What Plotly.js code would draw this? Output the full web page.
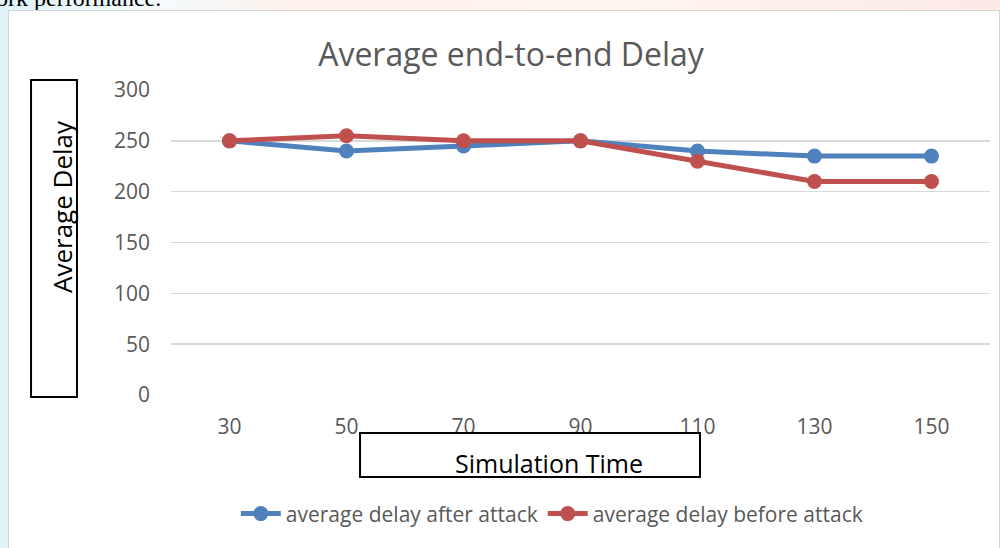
<!DOCTYPE html>
<html>
<head>
<meta charset="utf-8">
<script src="https://cdn.plot.ly/plotly-3.0.1.min.js"></script>
<style>
  html, body { margin:0; padding:0; width:1000px; height:548px; overflow:hidden;
    background: linear-gradient(90deg, #dff3f8 0%, #f4fbfd 15%, #fdf1ea 30%, #fff6ef 60%, #fbe9e6 100%); }
  #frame { position:absolute; left:8px; top:10px; width:990px; height:545px;
    background:#ffffff; border:1px solid #d4d4d4; }
  #doctext { position:absolute; left:-4px; top:-15px; font-family:"Liberation Serif", serif;
    font-size:24px; color:#000; white-space:nowrap; }
  #chart { position:absolute; left:0; top:0; width:1000px; height:548px; }
</style>
</head>
<body>
<div id="doctext">ork performance.</div>
<div id="frame"></div>
<div id="chart"></div>
<script>
const simulationTime = ["30", "50", "70", "90", "110", "130", "150"];
const delayAfterAttack = [250, 240, 245, 250, 240, 235, 235];
const delayBeforeAttack = [250, 255, 250, 250, 230, 210, 210];
const yTickValues = [0, 50, 100, 150, 200, 250, 300];

const BLUE = "#4F81BD";
const RED = "#C0504D";
const GRAY = "#595959";
const FONT = "Open Sans";

const traces = [
  { x: simulationTime, y: delayAfterAttack, type: "scatter", mode: "lines+markers",
    name: "average delay after attack",
    line: { color: BLUE, width: 5 }, marker: { color: BLUE, size: 15 } },
  { x: simulationTime, y: delayBeforeAttack, type: "scatter", mode: "lines+markers",
    name: "average delay before attack",
    line: { color: RED, width: 5 }, marker: { color: RED, size: 15 } }
];

const layout = {
  width: 1000, height: 548,
  margin: { l: 171, r: 10, t: 90, b: 153 },
  paper_bgcolor: "rgba(0,0,0,0)",
  plot_bgcolor: "rgba(0,0,0,0)",
  title: { text: "Average end-to-end Delay", x: 0.511, xanchor: "center",
    y: 1 - 55/548, yanchor: "middle", font: { family: FONT, size: 32, color: GRAY } },
  xaxis: { type: "category", range: [-0.5, 6.5], showgrid: false, zeroline: false, showline: false,
    ticks: "", ticklabelstandoff: 17, tickfont: { family: FONT, size: 21, color: GRAY } },
  yaxis: { range: [0, 300], tickvals: yTickValues, showgrid: true, gridcolor: "#d9d9d9",
    gridwidth: 1.5, zeroline: false, showline: false, ticks: "", ticklabelstandoff: 20,
    tickfont: { family: FONT, size: 21, color: GRAY } },
  showlegend: true,
  legend: { orientation: "h", x: 0.465, xanchor: "center", y: -0.39, yanchor: "middle",
    font: { family: FONT, size: 21, color: GRAY }, bgcolor: "rgba(0,0,0,0)", itemwidth: 40 },
  shapes: [
    { type: "rect", xref: "paper", yref: "paper", x0: -0.1709, x1: -0.1148, y0: -0.0066, y1: 1.0328,
      line: { color: "#000", width: 2 }, fillcolor: "rgba(0,0,0,0)" },
    { type: "rect", xref: "paper", yref: "paper", x0: 0.2308, x1: 0.6459, y0: -0.2689, y1: -0.1246,
      line: { color: "#000", width: 2 }, fillcolor: "rgba(0,0,0,0)" }
  ],
  annotations: [
    { text: "Average Delay", xref: "paper", yref: "paper", x: -0.1331, y: 0.6197,
      xanchor: "center", yanchor: "middle", textangle: -90, showarrow: false,
      font: { family: FONT, size: 26, color: "#000" } },
    { text: "Simulation Time", xref: "paper", yref: "paper", x: 0.4615, y: -0.223,
      xanchor: "center", yanchor: "middle", showarrow: false,
      font: { family: FONT, size: 25, color: "#000" } }
  ]
};

Plotly.newPlot("chart", traces, layout, { displayModeBar: false, staticPlot: true });
</script>
</body>
</html>
